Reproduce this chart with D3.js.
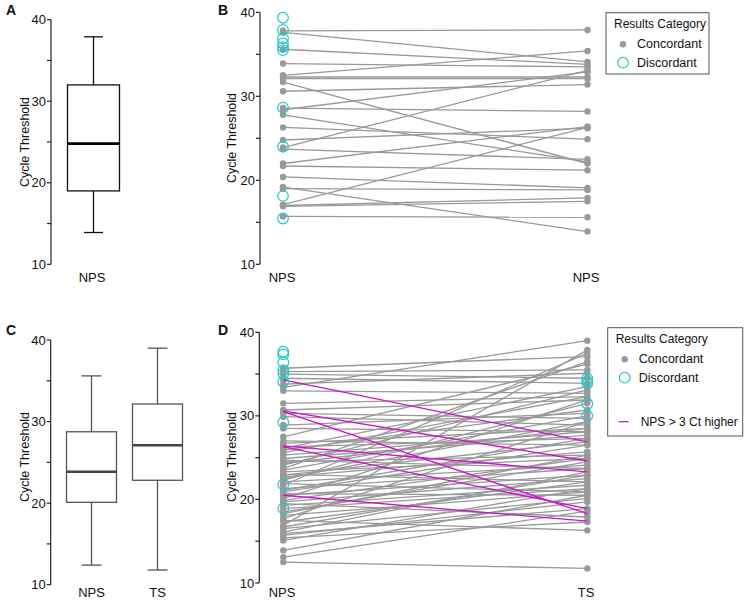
<!DOCTYPE html>
<html><head><meta charset="utf-8">
<script src="https://cdn.jsdelivr.net/npm/d3@7"></script>
<style>body{margin:0;background:#fff}svg{display:block;font-family:"Liberation Sans",Arial,sans-serif}</style>
</head><body>
<svg id="c" width="745" height="601"></svg>
<script>
// ---------- DATA ----------
const yTicks = [10, 20, 30, 40];
const yMinorTicks = [15, 25, 35];
const panelLetters = ["A", "B", "C", "D"];
const legendTitle = "Results Category";
const legendItems = ["Concordant", "Discordant"];
const legendLineLabel = "NPS > 3 Ct higher";

// Panel A box (NPS only): [whiskerLow, Q1, median, Q3, whiskerHigh]
const boxA = [{cat: "NPS", stats: [13.9, 19.0, 24.8, 32.0, 37.9]}];
// Panel C boxes
const boxC = [
  {cat: "NPS", stats: [12.4, 20.1, 23.85, 28.75, 35.6]},
  {cat: "TS",  stats: [11.8, 22.8, 27.1, 32.15, 39.0]}
];

// Panel B: paired NPS -> NPS (concordant)
const pairsB = [
  [37.8,37.9],[37.6,34.1],[35.6,33.8],[33.9,33.5],[32.5,35.4],[32.3,32.3],
  [32.1,32.1],[31.7,22.0],[30.6,31.4],[28.6,28.2],[28.4,32.9],[27.8,22.2],
  [26.3,24.9],[24.8,26.2],[23.9,33.1],[23.7,22.5],[22.0,26.4],[21.7,21.2],
  [20.4,19.1],[19.2,13.9],[19.0,18.85],[17.1,26.3],[17.0,17.9],[16.9,17.5],
  [15.7,15.6]
];
const discordB = [39.35, 37.9, 36.9, 36.3, 35.85, 35.5, 28.65, 24.0, 18.15, 15.45];

// Panel D: paired NPS -> TS
const pairsD = [
  [35.7,37.1],[35.3,35.5],[35.0,34.5],[34.5,33.9],[33.8,35.1],[33.4,39.0],
  [33.0,32.7],[31.5,32.3],[30.7,31.9],[30.3,29.7],[29.9,28.9],[28.9,30.3],
  [27.5,36.2],[26.7,28.5],[26.3,27.3],[25.9,30.7],[25.3,28.1],[24.9,27.7],
  [24.5,25.3],[24.1,33.1],[23.7,36.5],[23.3,24.9],[22.9,26.9],[22.5,29.3],
  [22.1,24.1],[21.7,37.5],[21.3,23.7],[20.9,26.5],[20.5,22.9],[20.1,31.9],
  [19.7,22.5],[19.3,21.7],[18.5,24.5],[18.1,20.9],[17.7,29.3],[17.3,22.1],
  [16.9,37.9],[16.5,20.1],[16.1,23.3],[15.7,19.7],[15.1,21.3],[13.9,20.5],
  [13.1,18.6],[12.5,11.75],[28.5,28.1],[27.0,26.5],[25.6,32.3],[24.7,23.7],
  [23.5,30.0],[23.0,22.1],[22.7,25.7],[21.9,20.9],[21.1,27.3],[20.7,20.5],
  [19.9,24.9],[19.5,17.9],[18.9,21.3],[18.3,25.3],[17.5,16.3],[16.7,22.9],
  [15.9,18.9],[15.4,17.3],[24.3,28.5],[26.1,33.5],[22.3,31.5]
];
// Panel D: NPS > 3 Ct higher than TS
const pairsDHigh = [[34.3,26.9],[30.6,24.6],[30.5,18.3],[26.4,23.3],[26.3,18.9],[20.5,17.4]];
const discordDLeft = [37.67, 37.35, 36.4, 35.48, 35.08, 34.08, 29.22, 21.8, 18.93];
const discordDRight = [34.48, 34.16, 33.88, 31.45, 30.0];

// ---------- STYLE ----------
const GRAY = "#999999", CYAN = "#22c8cc", MAG = "#cc10cc", AX = "#222";
const svg = d3.select("#c");

function yAxis(g, y, x0) {
  const ax = g.append("g").attr("transform", `translate(${x0},0)`);
  ax.append("line").attr("x1",0).attr("x2",0).attr("y1",y(40)).attr("y2",y(10)).attr("stroke",AX).attr("stroke-width",1.2);
  ax.selectAll("line.t").data(yTicks.concat(yMinorTicks)).join("line").attr("class","t")
    .attr("x1",-4).attr("x2",0).attr("y1",d=>y(d)).attr("y2",d=>y(d)).attr("stroke",AX).attr("stroke-width",1.2);
  ax.selectAll("text").data(yTicks).join("text")
    .attr("x",-5).attr("y",d=>y(d)).attr("dy","0.35em").attr("text-anchor","end")
    .attr("font-size",13).attr("fill","#111").text(d=>d);
}
function yLabel(x, yc) {
  svg.append("text").attr("transform",`translate(${x},${yc}) rotate(-90)`)
    .attr("text-anchor","middle").attr("dy","0.35em").attr("font-size",12.5).attr("fill","#111").text("Cycle Threshold");
}
function letter(t, x, y) {
  svg.append("text").attr("x",x).attr("y",y).attr("font-size",14).attr("font-weight","bold").attr("fill","#111").text(t);
}
function catLabel(t, x, y) {
  svg.append("text").attr("x",x).attr("y",y).attr("text-anchor","middle").attr("font-size",13).attr("fill","#111").text(t);
}
function boxes(data, x, y, boxW, capW, stroke, medStroke) {
  const g = svg.append("g");
  data.forEach(b => {
    const [lo,q1,md,q3,hi] = b.stats, cx = x(b.cat);
    g.append("line").attr("x1",cx).attr("x2",cx).attr("y1",y(q3)).attr("y2",y(hi)).attr("stroke",stroke).attr("stroke-width",1.3);
    g.append("line").attr("x1",cx).attr("x2",cx).attr("y1",y(q1)).attr("y2",y(lo)).attr("stroke",stroke).attr("stroke-width",1.3);
    g.append("line").attr("x1",cx-capW/2).attr("x2",cx+capW/2).attr("y1",y(hi)).attr("y2",y(hi)).attr("stroke",stroke).attr("stroke-width",1.3);
    g.append("line").attr("x1",cx-capW/2).attr("x2",cx+capW/2).attr("y1",y(lo)).attr("y2",y(lo)).attr("stroke",stroke).attr("stroke-width",1.3);
    g.append("rect").attr("x",cx-boxW/2).attr("y",y(q3)).attr("width",boxW).attr("height",y(q1)-y(q3))
      .attr("fill","#fff").attr("stroke",stroke).attr("stroke-width",1.3);
    g.append("line").attr("x1",cx-boxW/2).attr("x2",cx+boxW/2).attr("y1",y(md)).attr("y2",y(md)).attr("stroke",medStroke).attr("stroke-width",2.6);
  });
}
function paired(pairs, high, discL, discR, x, y, cats) {
  const g = svg.append("g");
  const all = pairs.map(p=>({p,c:GRAY})).concat(high.map(p=>({p,c:MAG})));
  g.selectAll("line.g").data(all.filter(d=>d.c===GRAY)).join("line").attr("class","g")
    .attr("x1",x(cats[0])).attr("x2",x(cats[1])).attr("y1",d=>y(d.p[0])).attr("y2",d=>y(d.p[1]))
    .attr("stroke",GRAY).attr("stroke-width",1.3);
  const pts = [];
  all.forEach(d => { pts.push([0,d.p[0]]); pts.push([1,d.p[1]]); });
  g.selectAll("circle.d").data(pts).join("circle").attr("class","d")
    .attr("cx",d=>x(cats[d[0]])).attr("cy",d=>y(d[1])).attr("r",3.2).attr("fill",GRAY);
  g.selectAll("line.m").data(all.filter(d=>d.c===MAG)).join("line").attr("class","m")
    .attr("x1",x(cats[0])).attr("x2",x(cats[1])).attr("y1",d=>y(d.p[0])).attr("y2",d=>y(d.p[1]))
    .attr("stroke",MAG).attr("stroke-width",1.3);
  const circ = discL.map(v=>[0,v]).concat(discR.map(v=>[1,v]));
  g.selectAll("circle.o").data(circ).join("circle").attr("class","o")
    .attr("cx",d=>x(cats[d[0]])).attr("cy",d=>y(d[1])).attr("r",5.3)
    .attr("fill","none").attr("stroke",CYAN).attr("stroke-width",1.2);
}
function legend(x0, y0, w, h, withLine) {
  const g = svg.append("g").attr("transform",`translate(${x0},${y0})`);
  g.append("rect").attr("width",w).attr("height",h).attr("fill","#fff").attr("stroke","#555").attr("stroke-width",1);
  g.append("text").attr("x",8).attr("y",15).attr("font-size",12).attr("fill","#111").text(legendTitle);
  g.append("circle").attr("cx",17).attr("cy",31.5).attr("r",3.2).attr("fill",GRAY);
  g.append("text").attr("x",31).attr("y",35.5).attr("font-size",12.5).attr("fill","#111").text(legendItems[0]);
  g.append("circle").attr("cx",17).attr("cy",50).attr("r",5.3).attr("fill","none").attr("stroke",CYAN).attr("stroke-width",1.2);
  g.append("text").attr("x",31).attr("y",54).attr("font-size",12.5).attr("fill","#111").text(legendItems[1]);
  if (withLine) {
    g.append("line").attr("x1",11).attr("x2",21).attr("y1",94).attr("y2",94).attr("stroke",MAG).attr("stroke-width",1.3);
    g.append("text").attr("x",33).attr("y",98).attr("font-size",12).attr("fill","#111").text(legendLineLabel);
  }
}

// ---------- PANEL A ----------
const yA = d3.scaleLinear().domain([10,40]).range([264.3,19.7]);
const xA = d3.scalePoint().domain(["NPS"]).range([93.5,93.5]);
yAxis(svg, yA, 51);
boxes(boxA, xA, yA, 52, 19, "#111", "#000");
yLabel(25, 142);
catLabel("NPS", 92, 282);
letter(panelLetters[0], 6, 15);

// ---------- PANEL B ----------
const yB = d3.scaleLinear().domain([10,40]).range([264.3,12.3]);
const xB = d3.scalePoint().domain(["NPS1","NPS2"]).range([283,587.5]);
yAxis(svg, yB, 260);
paired(pairsB, [], discordB, [], xB, yB, ["NPS1","NPS2"]);
yLabel(232, 138);
catLabel("NPS", 282, 282);
catLabel("NPS", 586, 282);
letter(panelLetters[1], 218, 15);
legend(606, 12.7, 103, 61.3, false);

// ---------- PANEL C ----------
const yC = d3.scaleLinear().domain([10,40]).range([584.7,340]);
const xC = d3.scalePoint().domain(["NPS","TS"]).range([91.5,157.5]);
yAxis(svg, yC, 50.7);
boxes(boxC, xC, yC, 50, 20, "#555", "#444");
yLabel(25, 457);
catLabel("NPS", 91.5, 597);
catLabel("TS", 157.5, 597);
letter(panelLetters[2], 6, 335);

// ---------- PANEL D ----------
const yD = d3.scaleLinear().domain([10,40]).range([583,332.3]);
const xD = d3.scalePoint().domain(["NPS","TS"]).range([283.3,587.3]);
yAxis(svg, yD, 259.3);
paired(pairsD, pairsDHigh, discordDLeft, discordDRight, xD, yD, ["NPS","TS"]);
yLabel(232, 457);
catLabel("NPS", 282, 597);
catLabel("TS", 586, 597);
letter(panelLetters[3], 218, 335);
legend(607.7, 327.7, 135, 108.3, true);
</script>
</body></html>
